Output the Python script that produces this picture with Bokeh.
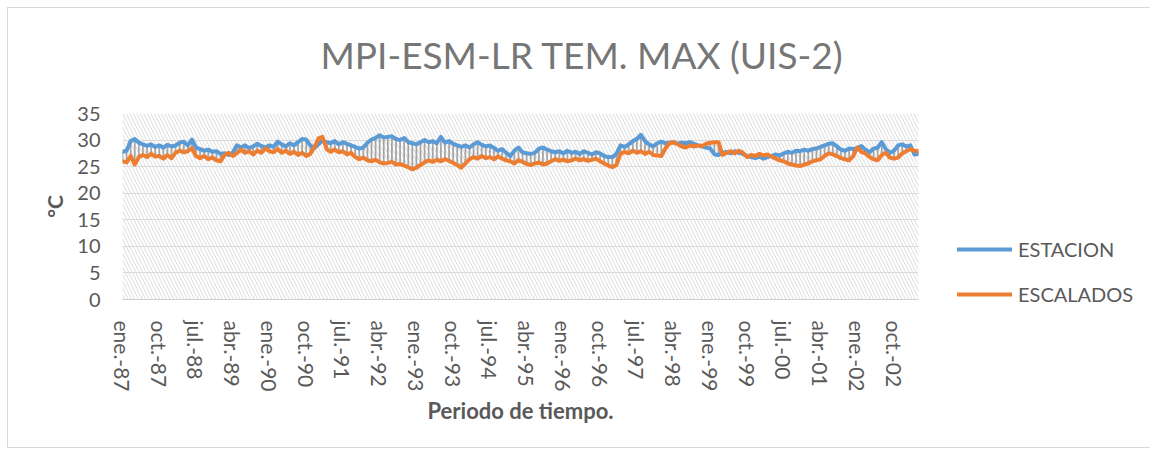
from bokeh.plotting import figure
from bokeh.models import (Range1d, FixedTicker, BoxAnnotation, Legend, LegendItem,
                          ColumnDataSource, Title)
from bokeh.embed import file_html
from bokeh.resources import INLINE

TITLE = "MPI-ESM-LR TEM. MAX  (UIS-2)"
MONTHS = ["ene.", "feb.", "mar.", "abr.", "may.", "jun.",
          "jul.", "ago.", "sep.", "oct.", "nov.", "dic."]
PERIODOS = [f"{MONTHS[k % 12]}-{(87 + k // 12) % 100:02d}" for k in range(196)]

TICK_LABELS = ["ene.-87", "oct.-87", "jul.-88", "abr.-89", "ene.-90", "oct.-90",
               "jul.-91", "abr.-92", "ene.-93", "oct.-93", "jul.-94", "abr.-95",
               "ene.-96", "oct.-96", "jul.-97", "abr.-98", "ene.-99", "oct.-99",
               "jul.-00", "abr.-01", "ene.-02", "oct.-02"]
Y_TICKS = [0, 5, 10, 15, 20, 25, 30, 35]

ESTACION = [
    27.8, 28.0, 29.8, 30.2, 29.5, 29.2, 28.9, 29.2, 28.7, 29.0, 28.6, 29.1,  # 1987
    28.8, 29.0, 29.5, 29.7, 29.0, 30.1, 28.6, 28.3, 28.0, 28.2, 27.8, 27.9,  # 1988
    27.4, 27.5, 27.2, 27.6, 29.0, 28.6, 29.0, 28.5, 28.8, 29.3, 28.9, 28.6,  # 1989
    29.0, 28.7, 29.7, 29.2, 28.8, 29.4, 29.0, 29.6, 30.2, 30.1, 29.0, 28.5,  # 1990
    29.2, 29.9, 29.6, 29.4, 29.8, 29.2, 29.6, 29.3, 29.0, 28.7, 28.4, 28.6,  # 1991
    29.5, 30.1, 30.4, 30.9, 30.5, 30.6, 30.7, 30.2, 30.0, 30.4, 29.6, 29.4,  # 1992
    29.2, 29.6, 30.0, 29.6, 29.8, 29.4, 30.6, 29.5, 29.8, 29.3, 29.0, 28.7,  # 1993
    29.0, 28.6, 29.2, 29.6, 29.1, 28.8, 29.0, 28.5, 28.0, 28.3, 27.6, 27.0,  # 1994
    28.0, 28.6, 27.7, 27.5, 27.4, 27.6, 28.4, 28.6, 28.2, 27.9, 27.7, 27.9,  # 1995
    27.5, 28.0, 27.6, 27.8, 27.4, 27.9, 27.6, 27.3, 27.7, 27.5, 27.0, 26.8,  # 1996
    26.8, 27.4, 29.0, 28.7, 29.2, 29.8, 30.2, 31.0, 29.8, 29.2, 28.8, 29.4,  # 1997
    29.7, 29.4, 29.5, 29.6, 29.3, 29.5, 29.4, 29.6, 29.3, 29.0, 28.8, 28.6,  # 1998
    28.4, 27.3, 27.2, 27.6, 27.8, 27.5, 27.9, 27.6, 27.4, 27.0, 26.8, 26.6,  # 1999
    26.9, 26.5, 26.8, 27.0, 27.3, 27.1, 27.5, 27.8, 27.6, 28.0, 27.9, 28.2,  # 2000
    28.0, 28.3, 28.4, 28.7, 29.0, 29.3, 29.4, 28.8, 28.2, 28.0, 28.4, 28.3,  # 2001
    28.5, 28.9, 28.2, 27.7, 28.4, 28.6, 29.6, 28.3, 27.6, 28.0, 29.0, 29.2,  # 2002
    28.8, 29.0, 27.3, 27.4,                                                  # 2003
]

ESCALADOS = [
    26.0, 25.8, 27.0, 25.4, 26.8, 27.2, 26.8, 27.4, 26.9, 27.0, 26.5, 27.2,  # 1987
    26.6, 27.6, 28.0, 27.7, 27.9, 28.5, 27.0, 26.6, 27.0, 26.4, 26.7, 26.2,  # 1988
    26.0, 27.2, 27.6, 27.0, 27.5, 28.2, 27.6, 27.9, 27.3, 28.0, 27.6, 28.4,  # 1989
    27.9, 27.7, 28.3, 27.6, 28.0, 27.4, 27.8, 27.2, 27.6, 27.0, 27.4, 28.6,  # 1990
    30.3, 30.6, 28.3, 27.8, 28.2, 27.7, 27.9, 27.3, 27.6, 26.8, 26.4, 26.7,  # 1991
    26.2, 26.0, 26.3, 25.8, 25.6, 25.7, 25.9, 25.4, 25.5, 25.2, 24.9, 24.5,  # 1992
    24.8, 25.3, 25.8, 26.2, 25.9, 26.3, 26.0, 26.4, 26.1, 25.7, 25.3, 24.8,  # 1993
    25.6, 26.4, 26.8, 26.5, 27.0, 26.6, 26.8, 26.4, 26.9, 26.5, 26.2, 26.0,  # 1994
    25.6, 26.2, 25.9, 25.5, 25.3, 25.6, 25.8, 25.4, 25.6, 26.0, 26.4, 26.1,  # 1995
    26.3, 26.0, 26.2, 26.5, 26.2, 26.4, 26.1, 26.3, 26.5, 26.0, 25.6, 25.2,  # 1996
    24.9, 25.3, 27.4, 27.8, 27.5, 28.0, 27.6, 27.9, 27.4, 27.8, 27.2, 27.1,  # 1997
    27.0, 28.4, 29.4, 29.6, 29.2, 28.8, 28.6, 29.0, 28.8, 29.0, 28.9, 29.3,  # 1998
    29.5, 29.6, 29.6, 27.2, 27.6, 27.9, 27.5, 28.0, 27.6, 26.8, 27.2, 27.0,  # 1999
    27.4, 27.1, 27.3, 26.9, 26.5, 26.2, 26.0, 25.6, 25.4, 25.2, 25.1, 25.4,  # 2000
    25.6, 26.0, 26.2, 26.4, 27.0, 27.5, 27.3, 27.0, 26.6, 26.4, 26.2, 27.0,  # 2001
    28.6, 27.8, 27.5, 26.8, 26.4, 26.2, 27.2, 27.6, 26.7, 26.5, 26.7, 27.5,  # 2002
    27.9, 28.3, 28.0, 27.9,                                                  # 2003
]

FONT = "Lato"
TXT = "#595959"

idx = list(range(len(PERIODOS)))
src = ColumnDataSource(dict(x=idx, periodo=PERIODOS, est=ESTACION, esc=ESCALADOS))

p = figure(frame_width=796, frame_height=186,
           x_range=Range1d(0, len(PERIODOS) - 1), y_range=Range1d(0, 35),
           output_backend="svg", toolbar_location=None,
           min_border_left=114, min_border_right=224,
           min_border_top=105, min_border_bottom=148)
p.margin = (7, 0, 0, 7)
p.styles = {"border": "1px solid #d9d9d9"}
p.outline_line_color = None
p.background_fill_color = "white"
p.border_fill_color = "white"

# titles: spacer closest to the frame, then the main title above it
p.title.text = ""
spacer = Title(text=" ", text_font=FONT, text_font_size="20px", standoff=11)
p.add_layout(spacer, "above")
main_title = Title(text=TITLE, align="left", offset=198, text_font=FONT,
                   text_font_size="37px", text_font_style="normal",
                   text_color="#767676", standoff=0)
p.add_layout(main_title, "above")

# hatched plot-area background
hatch = BoxAnnotation(fill_alpha=0, line_color=None, hatch_pattern="\\",
                      hatch_color="#dcdcdc", hatch_scale=7, hatch_weight=1,
                      level="underlay")
p.add_layout(hatch)

# grid
p.xgrid.grid_line_color = None
p.ygrid.grid_line_color = "#d9d9d9"
p.ygrid.grid_line_width = 1

# high-low lines and series
p.segment(x0="x", y0="est", x1="x", y1="esc", source=src,
          line_color="#a5a5a5", line_width=1.75)
r_est = p.line("x", "est", source=src, line_color="#5B9BD5", line_width=4,
               line_join="round", line_cap="round")
r_esc = p.line("x", "esc", source=src, line_color="#ED7D31", line_width=4,
               line_join="round", line_cap="round")

# y axis
ya = p.yaxis[0]
ya.ticker = FixedTicker(ticks=Y_TICKS)
ya.axis_line_color = None
ya.major_tick_line_color = None
ya.minor_tick_line_color = None
ya.major_tick_out = 0
ya.major_tick_in = 0
ya.major_label_standoff = 22
ya.major_label_text_font = FONT
ya.major_label_text_font_size = "20px"
ya.major_label_text_color = TXT
ya.axis_label = "°C"
ya.axis_label_text_font = FONT
ya.axis_label_text_font_size = "21px"
ya.axis_label_text_font_style = "bold"
ya.axis_label_text_color = TXT
ya.axis_label_standoff = 7

# x axis
tick_pos = [PERIODOS.index(t) for t in TICK_LABELS]
xa = p.xaxis[0]
xa.ticker = FixedTicker(ticks=tick_pos)
xa.major_label_overrides = {pos: lab for pos, lab in zip(tick_pos, TICK_LABELS)}
xa.major_label_orientation = "vertical"
xa.axis_line_color = "#d0d0d0"
xa.axis_line_width = 1
xa.major_tick_line_color = None
xa.minor_tick_line_color = None
xa.major_tick_out = 0
xa.major_tick_in = 0
xa.major_label_standoff = 21
xa.major_label_text_font = FONT
xa.major_label_text_font_size = "21px"
xa.major_label_text_color = TXT
xa.axis_label = "Periodo de tiempo."
xa.axis_label_text_font = FONT
xa.axis_label_text_font_size = "22px"
xa.axis_label_text_font_style = "bold"
xa.axis_label_text_color = TXT
xa.axis_label_standoff = 2

legend = Legend(items=[LegendItem(label="ESTACION", renderers=[r_est]),
                       LegendItem(label="ESCALADOS", renderers=[r_esc])],
                location=(39, -7), orientation="vertical",
                glyph_width=55, glyph_height=20, label_standoff=6, spacing=21,
                padding=0, margin=0, border_line_color=None,
                background_fill_alpha=0,
                label_text_font=FONT, label_text_font_size="20px",
                label_text_color=TXT)
p.add_layout(legend, "right")

open("out.html", "w").write(file_html(p, INLINE))
